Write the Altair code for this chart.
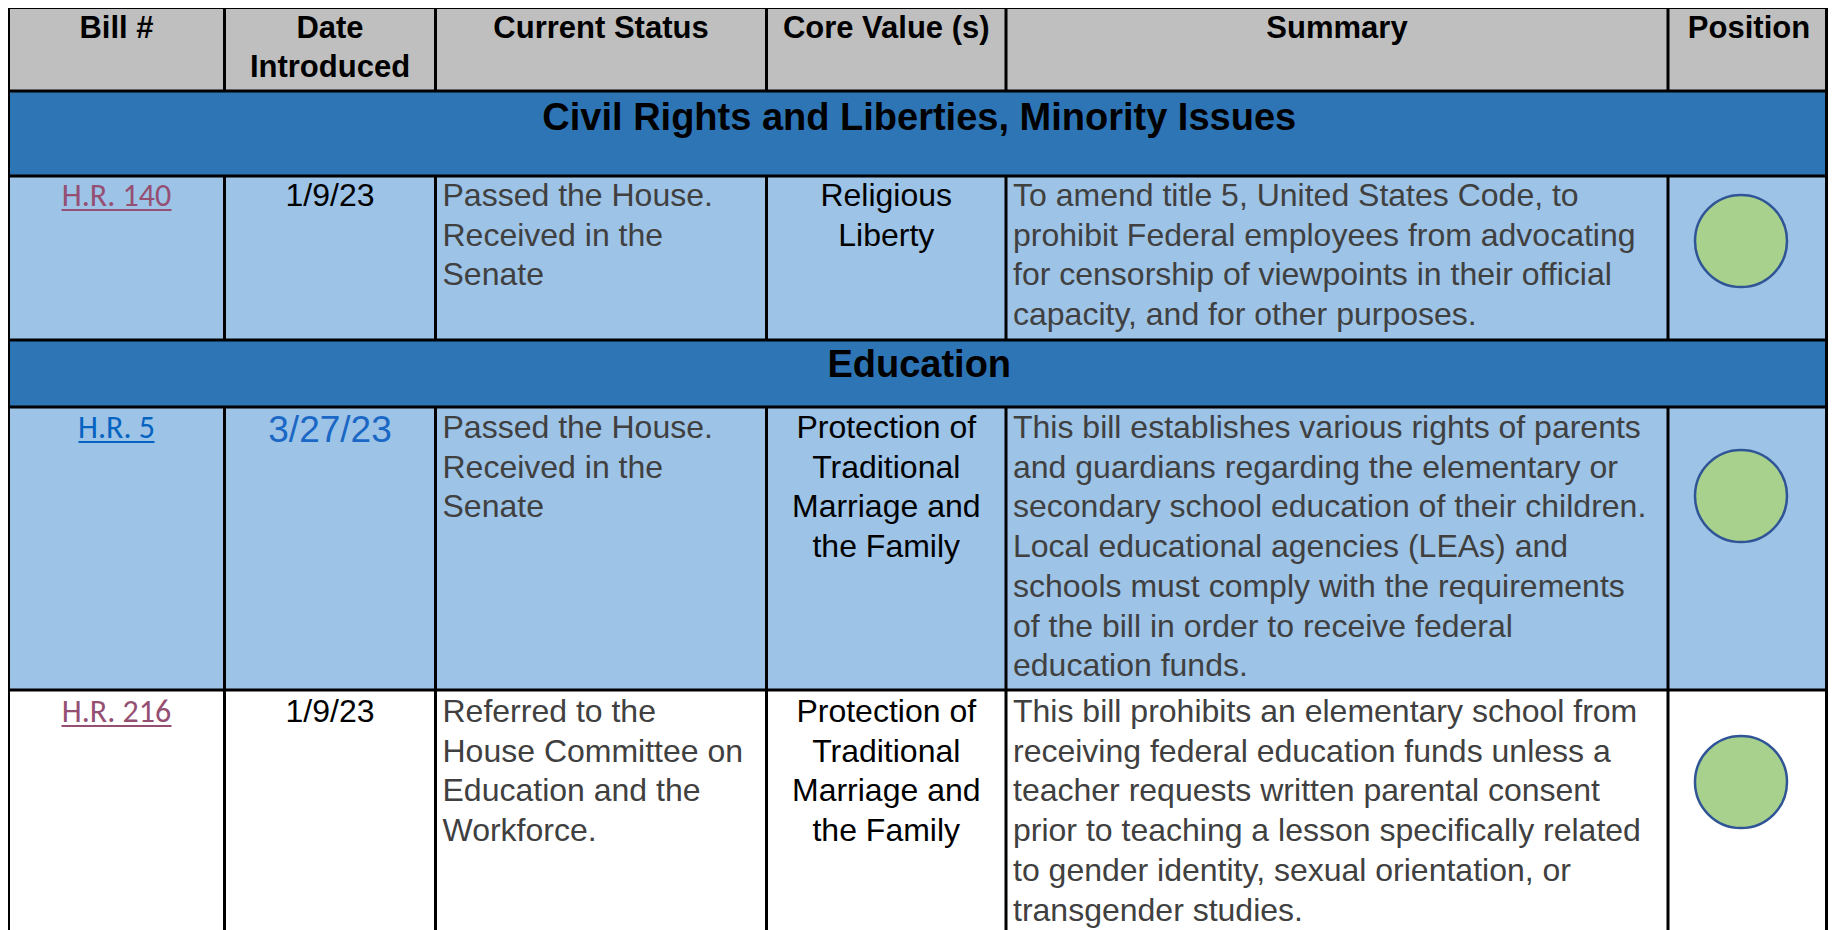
import altair as alt
import pandas as pd

# ---------------- table content ----------------
headers = ["Bill #", "Date\nIntroduced", "Current Status", "Core Value (s)", "Summary", "Position"]
sections = ["Civil Rights and Liberties, Minority Issues", "Education"]

bill_ids = ["H.R. 140", "H.R. 5", "H.R. 216"]
dates = ["1/9/23", "3/27/23", "1/9/23"]
statuses = [
    "Passed the House.\nReceived in the\nSenate",
    "Passed the House.\nReceived in the\nSenate",
    "Referred to the\nHouse Committee on\nEducation and the\nWorkforce.",
]
core_values = [
    "Religious\nLiberty",
    "Protection of\nTraditional\nMarriage and\nthe Family",
    "Protection of\nTraditional\nMarriage and\nthe Family",
]
summaries = [
    "To amend title 5, United States Code, to\nprohibit Federal employees from advocating\n"
    "for censorship of viewpoints in their official\ncapacity, and for other purposes.",
    "This bill establishes various rights of parents\nand guardians regarding the elementary or\n"
    "secondary school education of their children.\nLocal educational agencies (LEAs) and\n"
    "schools must comply with the requirements\nof the bill in order to receive federal\neducation funds.",
    "This bill prohibits an elementary school from\nreceiving federal education funds unless a\n"
    "teacher requests written parental consent\nprior to teaching a lesson specifically related\n"
    "to gender identity, sexual orientation, or\ntransgender studies.",
]
positions = ["Support", "Support", "Support"]

# ---------------- layout (pixel positions on the page) ----------------
W, H = 1820, 922
X0, Y0 = 8, 8
col_edges = [8.5, 224.5, 435.5, 766.5, 1006, 1668, 1830]
right_border = 1826.5
header_band = (7.5, 91)
section_bands = [(91, 176), (340, 407)]
bill_bands = [(176, 340), (407, 690), (690, 940)]
bill_fills = ["#9DC3E6", "#9DC3E6", "#FFFFFF"]
first_baselines = [206, 438, 722]
section_baselines = [130, 377]
header_baseline = 37.5
circle_y = [241, 496, 782]
circle_x = 1741
link_colors = ["#954F72", "#0563C1", "#954F72"]
date_colors = ["#000000", "#1A67C5", "#000000"]
date_sizes = [32, 37, 32]
link_half_widths = [55, 38, 55]
LINE_H = 39.7
BODY = 32

centers = [(a + b) / 2 for a, b in zip(col_edges[:-1], col_edges[1:])]
left = col_edges[0]

xs = alt.Scale(domain=[X0, X0 + W], range=[0, W], nice=False, zero=False)
ys = alt.Scale(domain=[Y0, Y0 + H], range=[0, H], nice=False, zero=False)


def X(f="x"):
    return alt.X(f"{f}:Q", scale=xs, axis=None)


def Y(f="y"):
    return alt.Y(f"{f}:Q", scale=ys, axis=None)


# ---- backgrounds ----
bg_rows = [dict(x=left, x2=right_border, y=header_band[0], y2=header_band[1], c="#BFBFBF")]
for a, b in section_bands:
    bg_rows.append(dict(x=left, x2=right_border, y=a, y2=b, c="#2E75B6"))
for (a, b), c in zip(bill_bands, bill_fills):
    bg_rows.append(dict(x=left, x2=right_border, y=a, y2=b, c=c))
bg = alt.Chart(pd.DataFrame(bg_rows)).mark_rect().encode(
    x=X(), x2="x2:Q", y=Y(), y2="y2:Q", color=alt.Color("c:N", scale=None)
)

# ---- grid lines ----
lines = []
for yv in [header_band[0], header_band[1], section_bands[0][1], section_bands[1][0], section_bands[1][1], bill_bands[1][1]]:
    lines.append(dict(x=left - 1.5, x2=right_border + 1.5, y=yv, y2=yv))
for xv in [left, right_border]:
    lines.append(dict(x=xv, x2=xv, y=header_band[0], y2=940))
for xv in col_edges[1:-1]:
    lines.append(dict(x=xv, x2=xv, y=header_band[0], y2=header_band[1]))
    lines.append(dict(x=xv, x2=xv, y=bill_bands[0][0], y2=bill_bands[0][1]))
    lines.append(dict(x=xv, x2=xv, y=bill_bands[1][0], y2=940))
grid = alt.Chart(pd.DataFrame(lines)).mark_rule(color="#000000", strokeWidth=3).encode(
    x=X(), x2="x2:Q", y=Y(), y2="y2:Q"
)

# ---- header text ----
hdr = pd.DataFrame(dict(x=centers, y=[header_baseline] * 6, t=headers))
hdr_text = alt.Chart(hdr).mark_text(
    font="Liberation Sans", fontWeight="bold", fontSize=31, align="center",
    baseline="alphabetic", lineBreak="\n", lineHeight=LINE_H, color="#000000",
).encode(x=X(), y=Y(), text="t:N")

# ---- section titles ----
sec = pd.DataFrame(dict(x=[(left + col_edges[-1]) / 2] * 2, y=section_baselines, t=sections))
sec_text = alt.Chart(sec).mark_text(
    font="Liberation Sans", fontWeight="bold", fontSize=38, align="center",
    baseline="alphabetic", color="#000000",
).encode(x=X(), y=Y(), text="t:N")

# ---- bill links ----
links = pd.DataFrame(dict(x=[centers[0]] * 3, y=first_baselines, t=bill_ids, c=link_colors))
link_text = alt.Chart(links).mark_text(
    font="Carlito, Lato, sans-serif", fontSize=32, align="center", baseline="alphabetic",
).encode(x=X(), y=Y(), text="t:N", color=alt.Color("c:N", scale=None))

ul = pd.DataFrame(dict(
    x=[centers[0] - h for h in link_half_widths],
    x2=[centers[0] + h for h in link_half_widths],
    y=[b + 4 for b in first_baselines],
    c=link_colors,
))
underline = alt.Chart(ul).mark_rule(strokeWidth=2).encode(
    x=X(), x2="x2:Q", y=Y(), color=alt.Color("c:N", scale=None)
)

# ---- dates ----
dt = pd.DataFrame(dict(x=[centers[1]] * 3, y=[b + (4 if s > BODY else 0) for b, s in zip(first_baselines, date_sizes)],
                       t=dates, c=date_colors, s=date_sizes))
date_text = alt.Chart(dt).mark_text(
    font="Liberation Sans", align="center", baseline="alphabetic",
).encode(x=X(), y=Y(), text="t:N", color=alt.Color("c:N", scale=None),
         size=alt.Size("s:Q", scale=None))

# ---- status ----
st = pd.DataFrame(dict(x=[col_edges[2] + 7] * 3, y=first_baselines, t=statuses))
status_text = alt.Chart(st).mark_text(
    font="Liberation Sans", fontSize=BODY, align="left", baseline="alphabetic",
    lineBreak="\n", lineHeight=LINE_H, color="#404040",
).encode(x=X(), y=Y(), text="t:N")

# ---- core values ----
cv = pd.DataFrame(dict(x=[centers[3]] * 3, y=first_baselines, t=core_values))
core_text = alt.Chart(cv).mark_text(
    font="Liberation Sans", fontSize=BODY, align="center", baseline="alphabetic",
    lineBreak="\n", lineHeight=LINE_H, color="#000000",
).encode(x=X(), y=Y(), text="t:N")

# ---- summaries ----
sm = pd.DataFrame(dict(x=[col_edges[4] + 7] * 3, y=first_baselines, t=summaries))
sum_text = alt.Chart(sm).mark_text(
    font="Liberation Sans", fontSize=BODY, align="left", baseline="alphabetic",
    lineBreak="\n", lineHeight=LINE_H, color="#404040",
).encode(x=X(), y=Y(), text="t:N")

# ---- position markers ----
pos = pd.DataFrame(dict(x=[circle_x] * 3, y=circle_y, p=positions))
pos_marks = alt.Chart(pos).mark_point(
    shape="circle", size=92 * 92, filled=True, fill="#A9D18E", color="#A9D18E",
    stroke="#2F5597", strokeWidth=2.5, opacity=1,
).encode(x=X(), y=Y(), tooltip="p:N")

chart = alt.layer(
    bg, grid, hdr_text, sec_text, link_text, underline, date_text,
    status_text, core_text, sum_text, pos_marks,
).properties(
    width=W, height=H, padding=0, autosize="none", background="#FFFFFF",
).configure_view(stroke=None)

chart.save("out.html", embed_options={"renderer": "svg", "actions": False})
